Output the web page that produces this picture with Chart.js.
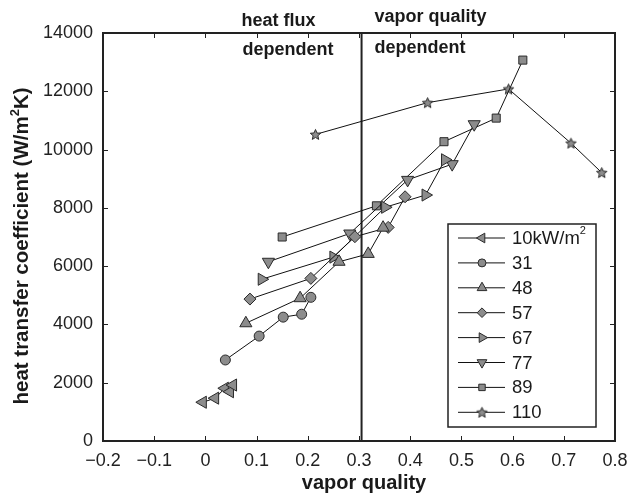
<!DOCTYPE html>
<html>
<head>
<meta charset="utf-8">
<script src="https://cdn.jsdelivr.net/npm/chart.js@4/dist/chart.umd.min.js"></script>
<style>
  html, body { margin: 0; padding: 0; background: #fff; }
</style>
</head>
<body>
<canvas id="chart" width="630" height="498"></canvas>
<script>
// heat flux series (legend labels)
let series_labels = ['10kW/m\u00b2', '31', '48', '57', '67', '77', '89', '110'];

// vapor quality / heat transfer coefficient
let q10 = [-0.005, 0.019, 0.038, 0.048, 0.054];
let h10 = [1330, 1470, 1810, 1690, 1920];
let q31 = [0.039, 0.105, 0.152, 0.188, 0.206];
let h31 = [2780, 3600, 4250, 4350, 4930];
let q48 = [0.079, 0.185, 0.261, 0.318, 0.347];
let h48 = [4040, 4900, 6150, 6420, 7320];
let q57 = [0.087, 0.206, 0.292, 0.357, 0.390];
let h57 = [4870, 5580, 7010, 7330, 8380];
let q67 = [0.110, 0.250, 0.351, 0.430, 0.468];
let h67 = [5550, 6310, 8020, 8440, 9650];
let q77 = [0.123, 0.282, 0.395, 0.482, 0.525];
let h77 = [6150, 7120, 8960, 9500, 10870];
let q89 = [0.150, 0.334, 0.466, 0.568, 0.620];
let h89 = [7000, 8070, 10270, 11080, 13070];
let q110 = [0.215, 0.434, 0.592, 0.714, 0.774];
let h110 = [10520, 11610, 12080, 10220, 9210];

// boundary between the two regimes
let boundary_q = [0.305, 0.305];
let boundary_h = [0, 14000];

let x_ticks = [-0.2, -0.1, 0, 0.1, 0.2, 0.3, 0.4, 0.5, 0.6, 0.7, 0.8];
let y_ticks = [0, 2000, 4000, 6000, 8000, 10000, 12000, 14000];

let x_title = 'vapor quality';
let y_title = 'heat transfer coefficient (W/m\u00b2K)';

let FONT = "'Liberation Sans', Arial, Helvetica, sans-serif";
let FILL = '#8c8c8c';
let EDGE = '#2a2a2a';

function makeStar(size) {
  let c = document.createElement('canvas');
  c.width = size; c.height = size;
  let g = c.getContext('2d');
  let cx = size / 2, cy = size / 2 + 0.5, R = size / 2 - 1, r = R * 0.45;
  g.beginPath();
  for (let i = 0; i < 10; i++) {
    let a = -Math.PI / 2 + i * Math.PI / 5;
    let rr = i % 2 ? r : R;
    g.lineTo(cx + rr * Math.cos(a), cy + rr * Math.sin(a));
  }
  g.closePath();
  g.fillStyle = FILL; g.fill();
  g.lineWidth = 1; g.strokeStyle = EDGE; g.stroke();
  return c;
}

let markers = [
  { style: 'triangle', rotation: 270, radius: 7 },
  { style: 'circle', rotation: 0, radius: 5 },
  { style: 'triangle', rotation: 0, radius: 7 },
  { style: 'rectRot', rotation: 0, radius: 6 },
  { style: 'triangle', rotation: 90, radius: 7 },
  { style: 'triangle', rotation: 180, radius: 7 },
  { style: 'rect', rotation: 0, radius: 5.7 },
  { style: makeStar(13), rotation: 0, radius: 6 }
];

function toPoints(xs, ys) {
  return xs.map(function(x, i) { return { x: x, y: ys[i] }; });
}

let all_q = [q10, q31, q48, q57, q67, q77, q89, q110];
let all_h = [h10, h31, h48, h57, h67, h77, h89, h110];

let datasets = [];
for (let i = 0; i < series_labels.length; i++) {
  datasets.push({
    label: series_labels[i],
    data: toPoints(all_q[i], all_h[i]),
    showLine: true,
    borderColor: '#111',
    borderWidth: 1,
    pointStyle: markers[i].style,
    pointRotation: markers[i].rotation,
    pointRadius: markers[i].radius,
    pointHoverRadius: markers[i].radius,
    pointBackgroundColor: FILL,
    pointBorderColor: EDGE,
    pointBorderWidth: 1
  });
}
datasets.push({
  label: 'boundary',
  data: toPoints(boundary_q, boundary_h),
  showLine: true,
  borderColor: '#222',
  borderWidth: 2,
  pointRadius: 0
});

function fmtTick(v) {
  let r = Math.round(v * 10) / 10;
  if (r === 0) return '0';
  return r.toFixed(1).replace('-', '\u2212');
}

// draws text with a real superscript for the "²" character
function drawSupText(ctx, text, x, y, size, weight, align) {
  let parts = text.split('\u00b2');
  let big = weight + ' ' + size + 'px ' + FONT;
  let small = weight + ' ' + Math.round(size * 0.62) + 'px ' + FONT;
  let width = 0;
  parts.forEach(function(p, i) {
    ctx.font = big; width += ctx.measureText(p).width;
    if (i < parts.length - 1) { ctx.font = small; width += ctx.measureText('2').width; }
  });
  let cx = align === 'center' ? x - width / 2 : x;
  ctx.textAlign = 'left';
  parts.forEach(function(p, i) {
    ctx.font = big; ctx.fillText(p, cx, y); cx += ctx.measureText(p).width;
    if (i < parts.length - 1) {
      ctx.font = small; ctx.fillText('2', cx, y - size * 0.42); cx += ctx.measureText('2').width;
    }
  });
}

// box round the plot and ticks pointing inwards, like the original
let framePlugin = {
  id: 'frame',
  afterDatasetsDraw(chart) {
    let ctx = chart.ctx, a = chart.chartArea;
    let xs = chart.scales.x, ys = chart.scales.y;
    ctx.save();
    ctx.strokeStyle = '#222';
    ctx.lineWidth = 1;
    ctx.beginPath();
    x_ticks.forEach(function(v) {
      let px = Math.round(xs.getPixelForValue(v)) + 0.5;
      ctx.moveTo(px, a.bottom); ctx.lineTo(px, a.bottom - 5);
      ctx.moveTo(px, a.top); ctx.lineTo(px, a.top + 5);
    });
    y_ticks.forEach(function(v) {
      let py = Math.round(ys.getPixelForValue(v)) + 0.5;
      ctx.moveTo(a.left, py); ctx.lineTo(a.left + 5, py);
      ctx.moveTo(a.right, py); ctx.lineTo(a.right - 5, py);
    });
    ctx.stroke();
    ctx.lineWidth = 2;
    ctx.strokeRect(a.left, a.top, a.right - a.left, a.bottom - a.top);
    ctx.restore();
  }
};

let notesPlugin = {
  id: 'notes',
  afterDraw(chart) {
    let ctx = chart.ctx, a = chart.chartArea;
    let lineX = chart.scales.x.getPixelForValue(boundary_q[0]);
    ctx.save();
    ctx.fillStyle = '#1a1a1a';
    ctx.font = 'bold 18px ' + FONT;
    ctx.textBaseline = 'alphabetic';
    ctx.textAlign = 'left';
    ctx.fillText('heat flux', lineX - 120, 26);
    ctx.fillText('dependent', lineX - 119, 55);
    ctx.fillText('vapor quality', lineX + 13, 22);
    ctx.fillText('dependent', lineX + 13, 53);

    // axis titles
    drawSupText(ctx, x_title, (a.left + a.right) / 2 + 5, 489, 20, 'bold', 'center');
    ctx.translate(28, (a.top + a.bottom) / 2 + 9);
    ctx.rotate(-Math.PI / 2);
    drawSupText(ctx, y_title, 0, 0, 20.5, 'bold', 'center');
    ctx.restore();
  }
};

let legendPlugin = {
  id: 'boxLegend',
  afterDraw(chart) {
    let ctx = chart.ctx, a = chart.chartArea;
    let right = a.right - 19, bottom = a.bottom - 14;
    let left = right - 148, top = bottom - 203;
    ctx.save();
    ctx.fillStyle = '#fff';
    ctx.fillRect(left, top, right - left, bottom - top);
    ctx.strokeStyle = '#222';
    ctx.lineWidth = 1.5;
    ctx.strokeRect(left, top, right - left, bottom - top);
    for (let i = 0; i < series_labels.length; i++) {
      let y = top + 14 + i * 24.9;
      ctx.strokeStyle = '#111';
      ctx.lineWidth = 1;
      ctx.beginPath();
      ctx.moveTo(left + 10, y); ctx.lineTo(left + 57, y);
      ctx.stroke();
      ctx.fillStyle = FILL;
      ctx.strokeStyle = EDGE;
      Chart.helpers.drawPoint(ctx, {
        pointStyle: markers[i].style,
        rotation: markers[i].rotation,
        radius: markers[i].radius * 0.8,
        borderWidth: 1
      }, left + 34, y);
      ctx.fillStyle = '#1a1a1a';
      ctx.textBaseline = 'middle';
      drawSupText(ctx, series_labels[i], left + 64, y + 1, 18.5, 'normal', 'left');
    }
    ctx.restore();
  }
};

let ctx = document.getElementById('chart').getContext('2d');
let myChart = new Chart(ctx, {
  type: 'scatter',
  data: { datasets: datasets },
  options: {
    responsive: false,
    animation: false,
    devicePixelRatio: 1,
    layout: { padding: { top: 33, right: 15, left: 0, bottom: 0 } },
    plugins: {
      legend: { display: false },
      tooltip: { enabled: false }
    },
    scales: {
      x: {
        type: 'linear',
        min: -0.2,
        max: 0.8,
        afterFit: function(scale) {
          scale.height = 57;
          scale.paddingLeft = 0;
          scale.paddingRight = 0;
        },
        afterBuildTicks: function(scale) { scale.ticks = x_ticks.map(function(v) { return { value: v }; }); },
        grid: { display: false, drawTicks: false },
        border: { display: false },
        ticks: {
          padding: 9,
          color: '#222',
          font: { family: FONT, size: 18 },
          callback: fmtTick,
          maxRotation: 0
        }
      },
      y: {
        type: 'linear',
        min: 0,
        max: 14000,
        afterFit: function(scale) {
          scale.width = 103;
          scale.paddingTop = 0;
          scale.paddingBottom = 0;
        },
        afterBuildTicks: function(scale) { scale.ticks = y_ticks.map(function(v) { return { value: v }; }); },
        grid: { display: false, drawTicks: false },
        border: { display: false },
        ticks: {
          padding: 10,
          color: '#222',
          font: { family: FONT, size: 18 },
          callback: function(v) { return String(v); }
        }
      }
    }
  },
  plugins: [framePlugin, notesPlugin, legendPlugin]
});
</script>
</body>
</html>
